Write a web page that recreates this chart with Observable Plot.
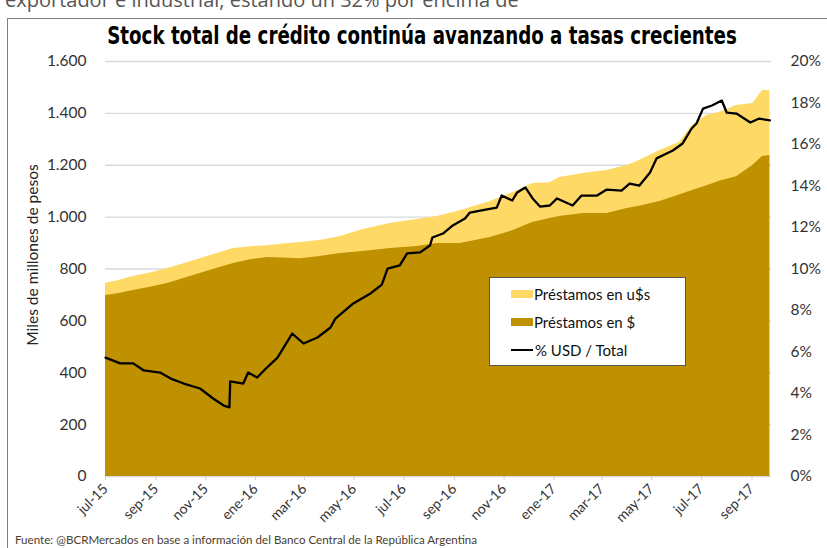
<!DOCTYPE html>
<html><head><meta charset="utf-8">
<script src="https://cdn.jsdelivr.net/npm/d3@7"></script>
<script src="https://cdn.jsdelivr.net/npm/@observablehq/plot@0.6"></script>
<style>
body{margin:0;background:#fff;width:827px;height:548px;overflow:hidden;position:relative;font-family:Lato,"Open Sans",sans-serif;}
#chart{position:absolute;left:0;top:0;}
#toptext{position:absolute;left:5px;top:-10px;font-family:"Open Sans",sans-serif;font-size:20px;line-height:20px;color:#555;white-space:nowrap;}
#frame{position:absolute;left:7px;top:18px;width:830px;height:600px;border-left:1.5px solid #808080;border-top:1.5px solid #808080;}
#title{position:absolute;left:422px;top:20px;transform:translateX(-50%) scaleX(0.73);transform-origin:50% 50%;font-family:"DejaVu Sans",sans-serif;font-weight:900;font-size:25px;line-height:32px;color:#000;white-space:nowrap;}
#ylabel{position:absolute;left:32px;top:255px;transform:translate(-50%,-50%) rotate(-90deg);font-size:15.5px;color:#222;white-space:nowrap;}
#legend{position:absolute;left:489px;top:277px;width:195px;height:87px;background:#fff;border:1px solid #555;font-size:15px;color:#111;}
.li{position:absolute;left:21px;height:18px;display:flex;align-items:center;white-space:nowrap;}
.sw{width:22px;height:8px;margin-right:1px;}
.ln{width:22px;height:2.5px;background:#000;margin-right:2px;}
#source{position:absolute;left:15px;top:533px;font-size:11.6px;color:#4a4030;white-space:nowrap;}
</style></head><body>
<div id="toptext">exportador e industrial, estando un 32% por encima de</div>
<div id="frame"></div>
<div id="chart"></div>
<div id="title">Stock total de crédito continúa avanzando a tasas crecientes</div>
<div id="ylabel">Miles de millones de pesos</div>
<div id="legend"></div>
<div id="source">Fuente: @BCRMercados en base a información del Banco Central de la República Argentina</div>
<script>
// Stock de préstamos (miles de millones de pesos)
const areaDates = ["2015-07-01","2015-07-16","2015-08-04","2015-08-25","2015-09-15","2015-10-05","2015-10-25","2015-11-15","2015-12-05","2015-12-26","2016-01-15","2016-02-04","2016-02-25","2016-03-20","2016-04-14","2016-05-12","2016-06-14","2016-07-17","2016-08-11","2016-09-08","2016-10-15","2016-11-12","2016-12-06","2016-12-27","2017-01-08","2017-02-06","2017-03-07","2017-04-01","2017-04-16","2017-05-11","2017-06-04","2017-06-20","2017-07-07","2017-07-23","2017-08-13","2017-09-02","2017-09-14","2017-09-23"];
const prestamosPesos = [698,705,717,730,744,763,783,803,821,836,844,842,840,848,860,867,879,887,898,898,921,948,979,995,1002,1014,1014,1033,1042,1060,1085,1103,1120,1138,1156,1199,1234,1238];
const prestamosUsd = [47,50,54,55,58,57,57,57,58,50,46,54,62,62,65,85,96,104,104,127,139,147,151,138,151,154,166,166,176,197,203,250,272,265,274,239,254,250];

// % USD / Total
const lineDates = ["2015-07-01","2015-07-19","2015-08-04","2015-08-17","2015-09-06","2015-09-19","2015-10-05","2015-10-25","2015-11-10","2015-11-23","2015-11-30","2015-12-01","2015-12-17","2015-12-23","2016-01-03","2016-01-15","2016-01-28","2016-02-15","2016-02-29","2016-03-17","2016-04-02","2016-04-08","2016-04-30","2016-05-21","2016-06-04","2016-06-11","2016-06-26","2016-07-05","2016-07-21","2016-08-02","2016-08-05","2016-08-18","2016-08-30","2016-09-14","2016-09-20","2016-10-11","2016-10-23","2016-10-29","2016-11-11","2016-11-17","2016-11-27","2016-12-06","2016-12-15","2016-12-27","2017-01-05","2017-01-24","2017-02-04","2017-02-23","2017-03-07","2017-03-25","2017-04-04","2017-04-16","2017-04-29","2017-05-07","2017-05-27","2017-06-08","2017-06-19","2017-06-25","2017-07-03","2017-07-14","2017-07-26","2017-08-01","2017-08-13","2017-08-30","2017-09-10","2017-09-23"];
const pctUsd = [5.73,5.45,5.45,5.11,5.01,4.72,4.48,4.24,3.76,3.42,3.33,4.58,4.48,5.01,4.77,5.25,5.73,6.89,6.41,6.70,7.18,7.61,8.34,8.82,9.25,10.02,10.17,10.75,10.80,11.13,11.52,11.71,12.10,12.43,12.72,12.87,12.96,13.54,13.30,13.69,13.93,13.40,13.01,13.06,13.40,13.06,13.54,13.54,13.83,13.78,14.12,14.02,14.65,15.33,15.71,16.05,16.77,17.01,17.73,17.88,18.12,17.54,17.49,17.06,17.25,17.16];

const yTicks = [0,200,400,600,800,1000,1200,1400,1600];
const pctTicks = [0,2,4,6,8,10,12,14,16,18,20];
const xTickDates = ["2015-07-01","2015-09-01","2015-11-01","2016-01-01","2016-03-01","2016-05-01","2016-07-01","2016-09-01","2016-11-01","2017-01-01","2017-03-01","2017-05-01","2017-07-01","2017-09-01"];
const xTickLabels = ["jul-15","sep-15","nov-15","ene-16","mar-16","may-16","jul-16","sep-16","nov-16","ene-17","mar-17","may-17","jul-17","sep-17"];

const seriesNames = ["Préstamos en u$s","Préstamos en $","% USD / Total"];
const colors = ["#FFD966","#BF9000","#000000"];

const areaData = areaDates.map((d,i)=>({date:new Date(d), pesos:prestamosPesos[i], total:prestamosPesos[i]+prestamosUsd[i]}));
const lineData = lineDates.map((d,i)=>({date:new Date(d), pct:pctUsd[i]}));
const pctScale = 1600/20;
const esFmt = d3.formatLocale({decimal:",",thousands:".",grouping:[3],currency:["$",""]}).format(",");
const tickMap = new Map(xTickDates.map((d,i)=>[+new Date(d), xTickLabels[i]]));

const chart = Plot.plot({
  width: 827, height: 548,
  marginTop: 61, marginBottom: 72, marginLeft: 105, marginRight: 56,
  style: {background:"transparent", fontFamily:"Lato, 'Open Sans', sans-serif", color:"#333", overflow:"visible"},
  x: {type:"utc", domain:[new Date("2015-07-01"), new Date("2017-09-25")]},
  y: {domain:[0,1600]},
  marks: [
    Plot.gridY(yTicks, {stroke:"#d9d9d9", strokeOpacity:1, strokeWidth:1.3}),
    Plot.areaY(areaData, {x:"date", y1:0, y2:"total", fill:colors[0]}),
    Plot.areaY(areaData, {x:"date", y1:0, y2:"pesos", fill:colors[1]}),
    Plot.lineY(lineData, {x:"date", y:d=>d.pct*pctScale, stroke:colors[2], strokeWidth:2.3}),
    Plot.axisY(yTicks, {anchor:"left", tickSize:0, tickPadding:19, tickFormat:esFmt, fontSize:15.5, label:null, fill:"#333"}),
    Plot.axisY(pctTicks.map(p=>p*pctScale), {anchor:"right", tickSize:0, tickPadding:19, tickFormat:d=>Math.round(d/pctScale)+"%", fontSize:15.5, label:null, fill:"#333"}),
    Plot.axisX(xTickDates.map(d=>new Date(d)), {tickRotate:-45, tickSize:4, tickPadding:6, stroke:"#d0d0d0", fill:"#333", fontSize:14, label:null, tickFormat:d=>tickMap.get(+d)})
  ]
});
document.getElementById("chart").appendChild(chart);

const leg = document.getElementById("legend");
seriesNames.forEach((n,i)=>{
  const row = document.createElement("div");
  row.className = "li";
  row.style.top = (7 + i*28) + "px";
  const sw = document.createElement("div");
  if (i<2) { sw.className="sw"; sw.style.background=colors[i]; } else { sw.className="ln"; }
  row.appendChild(sw);
  const t = document.createElement("span"); t.textContent = n; row.appendChild(t);
  leg.appendChild(row);
});
</script>
</body></html>
